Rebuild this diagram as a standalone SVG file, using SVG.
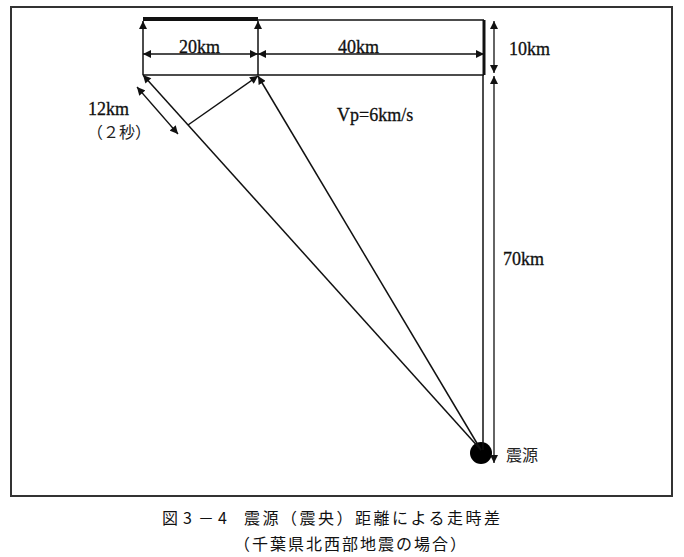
<svg xmlns="http://www.w3.org/2000/svg" width="684" height="557" viewBox="0 0 684 557">
<style>
.ln{stroke:#111;stroke-width:1.5;fill:none}
.dim{stroke:#111;stroke-width:1.3;fill:none}
.lat{font-family:"Liberation Serif","Noto Sans CJK JP",serif;font-size:18px;fill:#111;stroke:#111;stroke-width:0.3}
.jp{font-family:"Liberation Serif","Noto Sans CJK JP",serif;font-size:16px;fill:#222}
.cap{font-family:"Noto Sans CJK JP",sans-serif;font-size:16px;fill:#111}
</style>
<defs>
<marker id="ah" viewBox="0 0 10 10" refX="10" refY="5" markerWidth="9" markerHeight="8" markerUnits="userSpaceOnUse" orient="auto-start-reverse">
<path d="M0,0 L10,5 L0,10 z" fill="#111"/>
</marker>
</defs>
<rect x="11" y="7" width="661" height="489" fill="#fff" stroke="#333" stroke-width="2"/>
<g id="fault">
<line x1="143" y1="19" x2="258" y2="19" stroke="#111" stroke-width="4"/>
<line x1="258" y1="20" x2="484" y2="20" class="ln"/>
<line x1="484" y1="20" x2="484" y2="75" stroke="#111" stroke-width="3"/>
<line x1="143" y1="75" x2="484" y2="75" class="ln"/>
<line x1="143" y1="75" x2="143" y2="21" class="ln" marker-end="url(#ah)"/>
<line x1="258" y1="75" x2="258" y2="21" class="ln" marker-end="url(#ah)"/>
</g>
<g id="hypocenter">
<circle cx="481" cy="453" r="11" fill="#000"/>
<text x="506" y="461" class="jp">震源</text>
</g>
<g id="connectors">
<line x1="481" y1="450" x2="143" y2="75" class="ln" marker-end="url(#ah)"/>
<line x1="481" y1="450" x2="258" y2="76" class="ln" marker-end="url(#ah)"/>
<line x1="483" y1="450" x2="483" y2="75" class="ln"/>
<line x1="188" y1="125" x2="258" y2="76" class="ln" stroke-width="2" marker-end="url(#ah)"/>
<line x1="143" y1="54" x2="258" y2="54" class="dim" marker-start="url(#ah)" marker-end="url(#ah)"/>
<line x1="258" y1="54" x2="484" y2="54" class="dim" marker-start="url(#ah)" marker-end="url(#ah)"/>
<line x1="494" y1="21" x2="494" y2="73" class="dim" marker-start="url(#ah)" marker-end="url(#ah)"/>
<line x1="494" y1="76" x2="494" y2="463" class="dim" marker-start="url(#ah)" marker-end="url(#ah)"/>
<line x1="137" y1="87" x2="178" y2="134" class="dim" stroke-width="1.6" marker-start="url(#ah)" marker-end="url(#ah)"/>
</g>
<g id="labels">
<text x="179" y="53" class="lat">20km</text>
<text x="338" y="53" class="lat">40km</text>
<text x="509" y="55" class="lat">10km</text>
<text x="503" y="265" class="lat">70km</text>
<text x="337" y="121" class="lat">Vp=6km/s</text>
<text x="88" y="115" class="lat">12km</text>
<text x="87" y="138" class="jp">（２秒）</text>
</g>
<g id="caption">
<text y="524" class="cap"><tspan x="162">図</tspan><tspan x="183">3</tspan><tspan x="198">－</tspan><tspan x="218">4</tspan><tspan x="244" letter-spacing="2.5">震源（震央）距離による走時差</tspan></text>
<text x="234" y="550" class="cap" letter-spacing="2">（千葉県北西部地震の場合）</text>
</g>
</svg>
